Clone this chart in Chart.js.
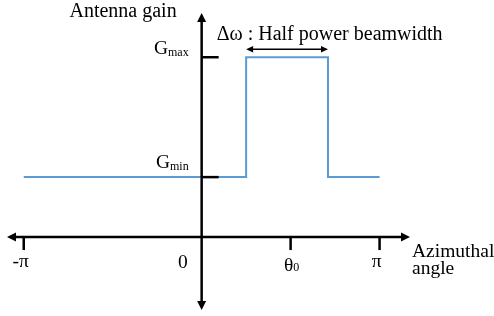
<!DOCTYPE html>
<html>
<head>
<meta charset="utf-8">
<script src="https://cdn.jsdelivr.net/npm/chart.js@4/dist/chart.umd.min.js"></script>
<style>
  html, body { margin: 0; padding: 0; background: #ffffff; }
  #wrap { width: 494px; height: 316px; }
</style>
</head>
<body>
<div id="wrap"><canvas id="c" width="494" height="316"></canvas></div>
<script>
// ---- data (angles in units of pi, gain levels: Gmin = 1, Gmax = 3) ----
const angleUnits   = [-1, 0.25, 0.25, 0.71, 0.71, 1];
const gainLevels   = [1, 1, 3, 3, 1, 1];
const xTickValues  = [-1, 0, 0.5, 1];
const xTickLabels  = ['-π', '0', 'θ_0', 'π'];
const yTickValues  = [1, 3];
const yTickLabels  = ['G_min', 'G_max'];
const beamEdges    = [0.25, 0.71];
const yAxisTitle   = 'Antenna gain';
const xAxisTitle   = ['Azimuthal', 'angle'];
const beamNote     = 'Δω : Half power beamwidth';

const FONT = '"Liberation Serif", "Times New Roman", serif';
const MAIN = 19.5, SUB = 12, TITLE = 20;

function subText(ctx, text, x, y, align, subDrop) {
  const parts = text.split('_');
  const main = parts[0], sub = parts[1] || '';
  ctx.font = MAIN + 'px ' + FONT;
  const wm = ctx.measureText(main).width;
  ctx.font = SUB + 'px ' + FONT;
  const ws = sub ? ctx.measureText(sub).width : 0;
  const total = wm + ws;
  let left = x;
  if (align === 'right') left = x - total;
  else if (align === 'center') left = x - total / 2;
  ctx.textAlign = 'left';
  ctx.textBaseline = 'alphabetic';
  ctx.font = MAIN + 'px ' + FONT;
  ctx.fillText(main, left, y);
  if (sub) {
    ctx.font = SUB + 'px ' + FONT;
    ctx.fillText(sub, left + wm, y + (subDrop || 0));
  }
}

function arrowHead(ctx, tx, ty, dx, dy, len, half) {
  const bx = tx - dx * len, by = ty - dy * len;
  const px = -dy, py = dx;
  ctx.beginPath();
  ctx.moveTo(tx, ty);
  ctx.lineTo(bx + px * half, by + py * half);
  ctx.lineTo(bx - px * half, by - py * half);
  ctx.closePath();
  ctx.fill();
}

const overlay = {
  id: 'overlay',
  afterDatasetsDraw(chart) {
    const ctx = chart.ctx;
    const xs = chart.scales.x, ys = chart.scales.y;
    const ca = chart.chartArea;
    const x0 = xs.getPixelForValue(0);
    const y0 = ys.getPixelForValue(0);
    ctx.save();
    ctx.strokeStyle = '#000';
    ctx.fillStyle = '#000';
    ctx.lineWidth = 2.5;
    // horizontal axis (double arrow)
    ctx.beginPath();
    ctx.moveTo(ca.left + 6, y0);
    ctx.lineTo(ca.right - 6, y0);
    ctx.stroke();
    arrowHead(ctx, ca.left, y0, -1, 0, 9, 4.5);
    arrowHead(ctx, ca.right, y0, 1, 0, 9, 4.5);
    // vertical axis (double arrow)
    ctx.beginPath();
    ctx.moveTo(x0, ca.top + 6);
    ctx.lineTo(x0, ca.bottom - 6);
    ctx.stroke();
    arrowHead(ctx, x0, ca.top, 0, -1, 9, 4.5);
    arrowHead(ctx, x0, ca.bottom, 0, 1, 9, 4.5);

    // x ticks and labels
    xTickValues.forEach((v, i) => {
      const px = xs.getPixelForValue(v);
      const lab = xTickLabels[i];
      if (v !== 0) {
        ctx.lineWidth = 2.5;
        ctx.beginPath();
        ctx.moveTo(px, y0);
        ctx.lineTo(px, y0 + 13);
        ctx.stroke();
      }
      if (v === 0) {
        subText(ctx, lab, x0 - 14, y0 + 31, 'right', 0);
      } else if (lab.indexOf('_') >= 0) {
        subText(ctx, lab, px + 1, y0 + 34, 'center', 0);
      } else {
        subText(ctx, lab, px - 3, y0 + 30, 'center', 0);
      }
    });

    // y ticks and labels
    yTickValues.forEach((v, i) => {
      const py = ys.getPixelForValue(v);
      ctx.lineWidth = 2.5;
      ctx.beginPath();
      ctx.moveTo(x0, py);
      ctx.lineTo(x0 + 17, py);
      ctx.stroke();
      const lab = yTickLabels[i];
      const top = v === Math.max(...yTickValues);
      subText(ctx, lab, x0 - 13, top ? py - 3 : py - 9, 'right', 2);
    });

    // y axis title
    ctx.font = TITLE + 'px ' + FONT;
    ctx.textAlign = 'right';
    ctx.textBaseline = 'alphabetic';
    ctx.fillText(yAxisTitle, x0 - 25, ca.top + 4);

    // x axis title
    ctx.font = MAIN + 'px ' + FONT;
    ctx.textAlign = 'left';
    ctx.fillText(xAxisTitle[0], ca.right + 2, y0 + 20);
    ctx.fillText(xAxisTitle[1], ca.right + 2, y0 + 37);

    // beamwidth double arrow and note
    const bl = xs.getPixelForValue(beamEdges[0]);
    const br = xs.getPixelForValue(beamEdges[1]);
    const gmaxPx = ys.getPixelForValue(Math.max(...gainLevels));
    const ay = gmaxPx - 8;
    ctx.lineWidth = 1.5;
    ctx.beginPath();
    ctx.moveTo(bl + 4, ay);
    ctx.lineTo(br - 4, ay);
    ctx.stroke();
    arrowHead(ctx, bl, ay, -1, 0, 7, 3.2);
    arrowHead(ctx, br, ay, 1, 0, 7, 3.2);
    ctx.font = TITLE + 'px ' + FONT;
    ctx.textAlign = 'left';
    ctx.fillText(beamNote, x0 + 15, ay - 9);
    ctx.restore();
  }
};

new Chart(document.getElementById('c'), {
  type: 'line',
  data: {
    datasets: [{
      data: angleUnits.map((a, i) => ({ x: a, y: gainLevels[i] })),
      borderColor: '#5b9bd5',
      borderWidth: 2,
      pointRadius: 0,
      fill: false,
      tension: 0
    }]
  },
  options: {
    responsive: false,
    devicePixelRatio: 1,
    animation: false,
    layout: { padding: { left: 7, right: 84, top: 13, bottom: 6 } },
    plugins: { legend: { display: false }, tooltip: { enabled: false } },
    scales: {
      x: { type: 'linear', min: -1.094, max: 1.171, display: false },
      y: { type: 'linear', min: -1.217, max: 3.738, display: false }
    }
  },
  plugins: [overlay]
});
</script>
</body>
</html>
